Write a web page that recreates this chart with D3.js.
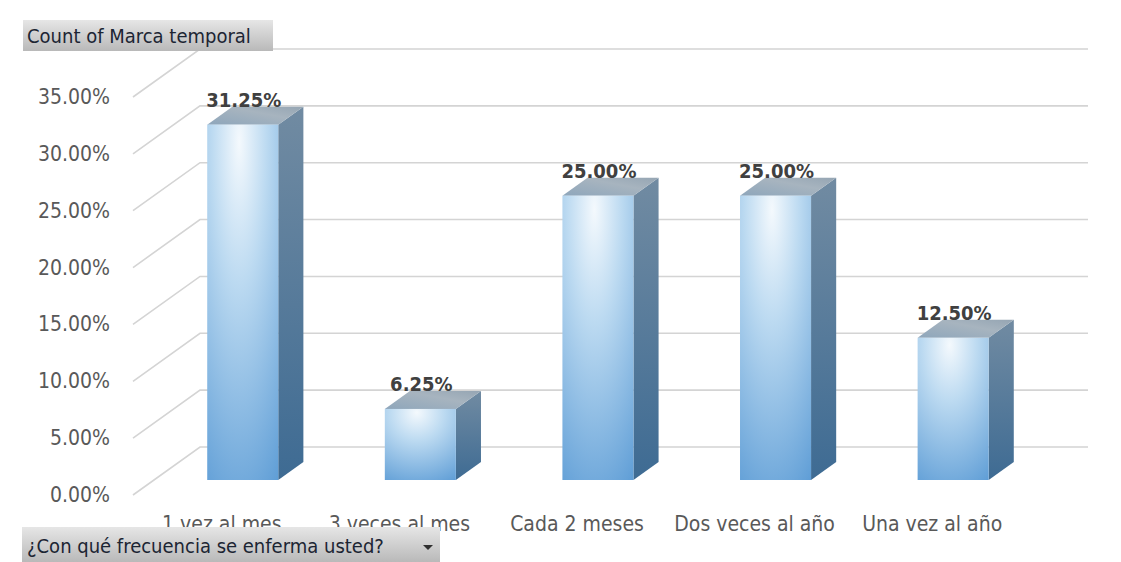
<!DOCTYPE html>
<html>
<head>
<meta charset="utf-8">
<script src="https://cdn.jsdelivr.net/npm/d3@7"></script>
<style>
  body { margin: 0; background: #fff; }
  text { font-family: "DejaVu Sans Condensed", "DejaVu Sans", sans-serif; font-stretch: condensed; }
</style>
</head>
<body>
<svg id="chart" width="1121" height="562"></svg>
<script>
// data
var categories = ['1 vez al mes', '3 veces al mes', 'Cada 2 meses', 'Dos veces al año', 'Una vez al año'];
var values = [31.25, 6.25, 25.00, 25.00, 12.50];
var yTicks = [0, 5, 10, 15, 20, 25, 30, 35];
var fieldTitle = 'Count of Marca temporal';
var axisField = '¿Con qué frecuencia se enferma usted?';

var svg = d3.select('#chart');

// front plane of the 3d box
var left = 133, right = 1021
    , depthX = 67, depthY = -48 // offset from front plane to back wall
    , barFront = 0.3125, barBack = 0.6875; // bar sits in middle of depth

var xScale = d3.scaleBand()
    .domain(categories)
    .range([left, right])
    .paddingInner(0.6)
    .paddingOuter(0.3);

var yScale = d3.scaleLinear()
    .domain([0, 35])
    .range([495, 97]);

var fmt = d => d3.format('.2f')(d) + '%';

// gradients
var defs = svg.append('defs');
var front = defs.append('radialGradient')
    .attr('id', 'frontGrad')
    .attr('cx', 0.45).attr('cy', 0.08).attr('r', 1.1)
    .attr('fx', 0.45).attr('fy', 0.05);
front.append('stop').attr('offset', '0%').attr('stop-color', '#f4f9fd');
front.append('stop').attr('offset', '35%').attr('stop-color', '#bcdaf1');
front.append('stop').attr('offset', '100%').attr('stop-color', '#5b9bd5');

var side = defs.append('linearGradient')
    .attr('id', 'sideGrad')
    .attr('x1', 0).attr('y1', 0).attr('x2', 0).attr('y2', 1);
side.append('stop').attr('offset', '0%').attr('stop-color', '#718ba2');
side.append('stop').attr('offset', '100%').attr('stop-color', '#3e6b93');

var top3d = defs.append('linearGradient')
    .attr('id', 'topGrad')
    .attr('x1', 0).attr('y1', 1).attr('x2', 1).attr('y2', 0);
top3d.append('stop').attr('offset', '0%').attr('stop-color', '#8ea6bb');
top3d.append('stop').attr('offset', '60%').attr('stop-color', '#a7b4bf');
top3d.append('stop').attr('offset', '100%').attr('stop-color', '#95a5b3');

var boxGrad = defs.append('linearGradient')
    .attr('id', 'boxGrad')
    .attr('x1', 0).attr('y1', 0).attr('x2', 0).attr('y2', 1);
boxGrad.append('stop').attr('offset', '0%').attr('stop-color', '#e6e6e6');
boxGrad.append('stop').attr('offset', '100%').attr('stop-color', '#b9b9b9');

// gridlines: diagonal on side wall, then across back wall
svg.append('g')
    .selectAll('path')
    .data(yTicks)
    .enter()
    .append('path')
    .attr('fill', 'none')
    .attr('stroke', '#d4d4d4')
    .attr('stroke-width', 1.6)
    .attr('d', d => {
        var y = yScale(d);
        return `M${left},${y} L${left + depthX},${y + depthY} L${right + depthX},${y + depthY}`;
    });

// tick labels
svg.append('g')
    .selectAll('text')
    .data(yTicks)
    .enter()
    .append('text')
    .attr('x', 110)
    .attr('y', d => yScale(d) + 1)
    .attr('dominant-baseline', 'middle')
    .attr('text-anchor', 'end')
    .attr('font-size', 21)
    .attr('fill', '#595959')
    .text(fmt);

// bars
var fx = depthX * barFront, fy = depthY * barFront;
var bx = depthX * barBack, by = depthY * barBack;
var sx = bx - fx, sy = by - fy;
var bw = xScale.bandwidth();

var bars = svg.append('g')
    .selectAll('g')
    .data(values)
    .enter()
    .append('g')
    .attr('transform', (d, i) => `translate(${xScale(categories[i]) + fx},${fy})`);

bars.append('path') // side face
    .attr('fill', 'url(#sideGrad)')
    .attr('d', d => {
        var y0 = yScale(0), y1 = yScale(d);
        return `M${bw},${y1} L${bw + sx},${y1 + sy} L${bw + sx},${y0 + sy} L${bw},${y0} Z`;
    });

bars.append('path') // top face
    .attr('fill', 'url(#topGrad)')
    .attr('d', d => {
        var y1 = yScale(d);
        return `M0,${y1} L${sx},${y1 + sy} L${bw + sx},${y1 + sy} L${bw},${y1} Z`;
    });

bars.append('rect') // front face
    .attr('x', 0)
    .attr('y', d => yScale(d))
    .attr('width', bw)
    .attr('height', d => yScale(0) - yScale(d))
    .attr('fill', 'url(#frontGrad)');

bars.append('text')
    .attr('x', bw / 2 + 1)
    .attr('y', d => yScale(d) + sy)
    .attr('text-anchor', 'middle')
    .attr('font-size', 20)
    .attr('font-weight', 'bold')
    .attr('fill', '#404040')
    .text(fmt);

// category labels
svg.append('g')
    .selectAll('text')
    .data(categories)
    .enter()
    .append('text')
    .attr('x', d => xScale(d) + bw / 2)
    .attr('y', 531)
    .attr('text-anchor', 'middle')
    .attr('font-size', 21)
    .attr('fill', '#595959')
    .text(d => d);

// pivot field buttons
svg.append('rect')
    .attr('x', 23).attr('y', 20)
    .attr('width', 250).attr('height', 31)
    .attr('fill', 'url(#boxGrad)');
svg.append('text')
    .attr('x', 27).attr('y', 43)
    .attr('font-size', 20)
    .attr('fill', '#1c2533')
    .text(fieldTitle);

svg.append('rect')
    .attr('x', 22).attr('y', 527)
    .attr('width', 418).attr('height', 35)
    .attr('fill', 'url(#boxGrad)');
svg.append('text')
    .attr('x', 27).attr('y', 553)
    .attr('font-size', 20)
    .attr('fill', '#1c2533')
    .text(axisField);
svg.append('path')
    .attr('fill', '#303030')
    .attr('d', 'M423,545 L433,545 L428,550 Z');
</script>
</body>
</html>
